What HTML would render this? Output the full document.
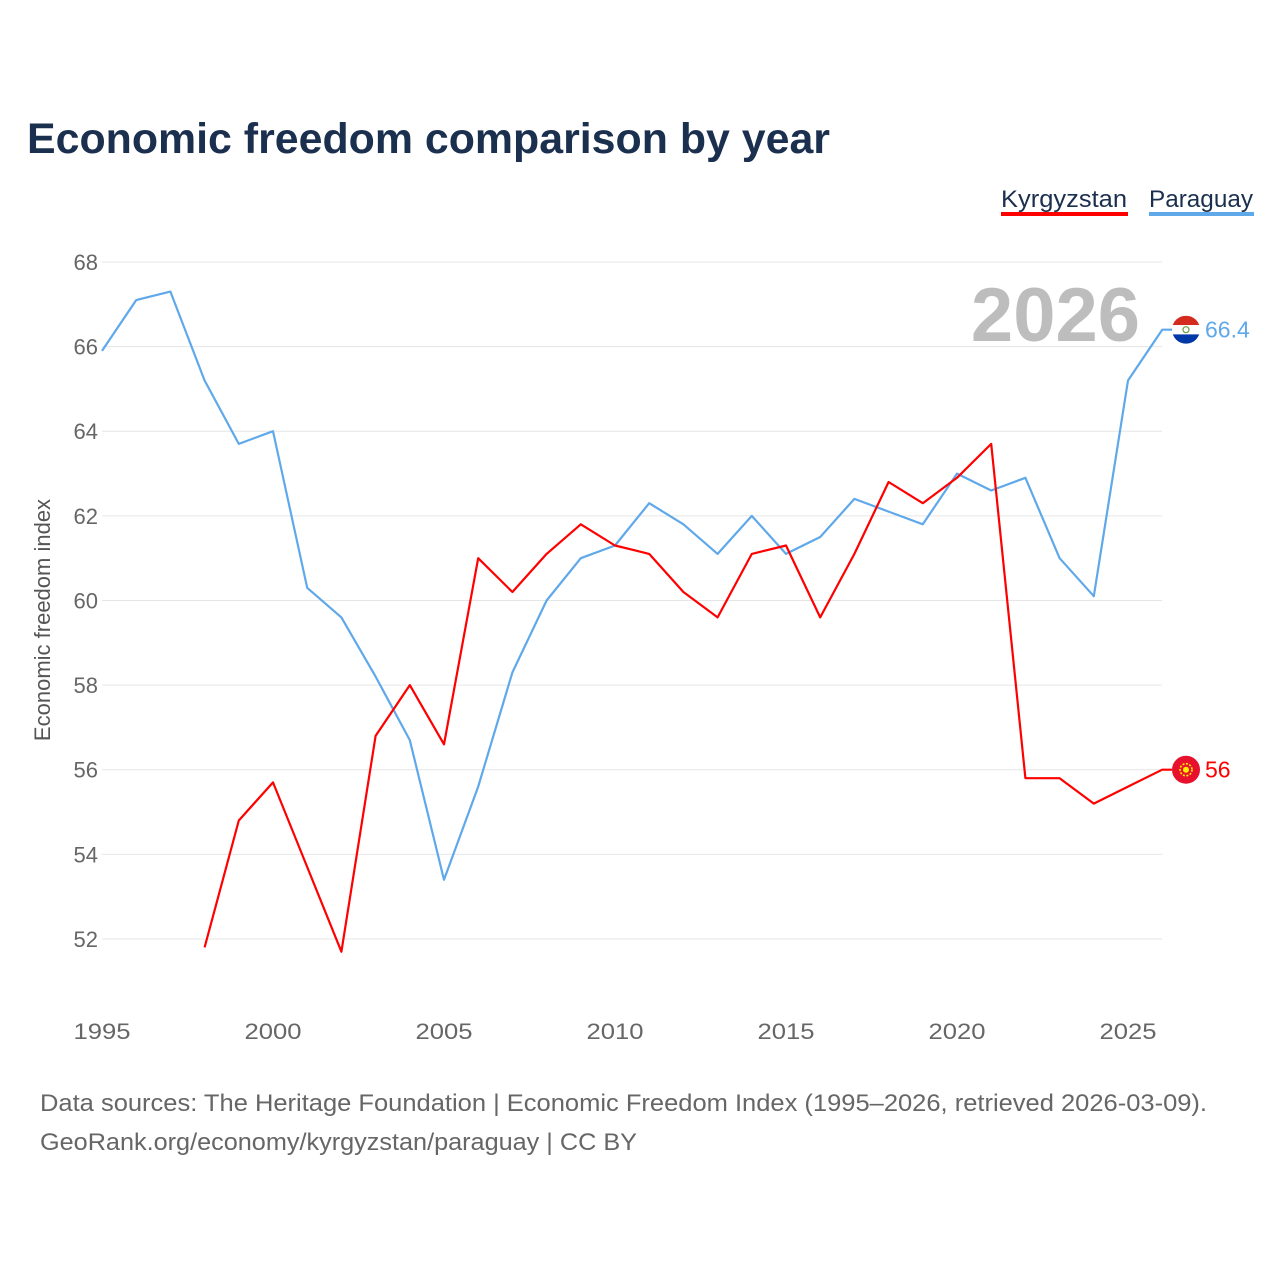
<!DOCTYPE html>
<html><head><meta charset="utf-8">
<style>
body{margin:0;background:#fff;font-family:"Liberation Sans",sans-serif;}
svg text{font-family:"Liberation Sans",sans-serif;}
</style></head>
<body>
<svg id="chart" width="1280" height="1280" viewBox="0 0 1280 1280">
  <text x="27" y="153" font-size="43" font-weight="bold" fill="#1b2f4e" textLength="803" lengthAdjust="spacingAndGlyphs">Economic freedom comparison by year</text>
  <g>
    <text x="1001" y="207" font-size="24" fill="#1b2f4e" textLength="126" lengthAdjust="spacingAndGlyphs">Kyrgyzstan</text>
    <rect x="1001" y="212" width="127" height="4" fill="#ff0000"/>
    <text x="1149" y="207" font-size="24" fill="#1b2f4e" textLength="104" lengthAdjust="spacingAndGlyphs">Paraguay</text>
    <rect x="1149" y="212" width="105" height="4" fill="#5fa8ea"/>
  </g>
  <text x="1140" y="341" font-size="76" font-weight="bold" fill="#bdbdbd" text-anchor="end">2026</text>
  <text transform="translate(50,620) rotate(-90)" font-size="22" fill="#555" text-anchor="middle">Economic freedom index</text>
  <g id="grid"></g><g id="xt"></g><g id="lines"></g>
  <text x="40" y="1111" font-size="24" fill="#666" textLength="1167" lengthAdjust="spacingAndGlyphs">Data sources: The Heritage Foundation | Economic Freedom Index (1995–2026, retrieved 2026-03-09).</text>
  <text x="40" y="1150" font-size="24" fill="#666" textLength="597" lengthAdjust="spacingAndGlyphs">GeoRank.org/economy/kyrgyzstan/paraguay | CC BY</text>
</svg>
<script>
const yTicks=[52,54,56,58,60,62,64,66,68];
const xTicks=[1995,2000,2005,2010,2015,2020,2025];
const pyYears=[1995,1996,1997,1998,1999,2000,2001,2002,2003,2004,2005,2006,2007,2008,2009,2010,2011,2012,2013,2014,2015,2016,2017,2018,2019,2020,2021,2022,2023,2024,2025,2026];
const paraguay=[65.9,67.1,67.3,65.2,63.7,64.0,60.3,59.6,58.2,56.7,53.4,55.6,58.3,60.0,61.0,61.3,62.3,61.8,61.1,62.0,61.1,61.5,62.4,62.1,61.8,63.0,62.6,62.9,61.0,60.1,65.2,66.4];
const kgYears=[1998,1999,2000,2001,2002,2003,2004,2005,2006,2007,2008,2009,2010,2011,2012,2013,2014,2015,2016,2017,2018,2019,2020,2021,2022,2023,2024,2025,2026];
const kyrgyzstan=[51.8,54.8,55.7,53.7,51.7,56.8,58.0,56.6,61.0,60.2,61.1,61.8,61.3,61.1,60.2,59.6,61.1,61.3,59.6,61.1,62.8,62.3,62.9,63.7,55.8,55.8,55.2,55.6,56.0];
const NS='http://www.w3.org/2000/svg';
const xS=v=>102+(v-1995)*34.2;
const yS=v=>262+(68-v)*42.31;
function mk(t,a,p){const e=document.createElementNS(NS,t);for(const k in a)e.setAttribute(k,a[k]);p.appendChild(e);return e;}
const grid=document.getElementById('grid');
yTicks.forEach(v=>{
  const l=mk('line',{x1:102,x2:1162,y1:yS(v),y2:yS(v),stroke:'#e6e6e6','stroke-width':1},grid);
  
  
  const t=mk('text',{x:98,y:yS(v)+8,'font-size':22,fill:'#666','text-anchor':'end'},grid);
  t.textContent=v;
  
  
});
const xt=document.getElementById('xt');
xTicks.forEach(v=>{
  const t=mk('text',{x:xS(v),y:1039,'font-size':22,fill:'#666','text-anchor':'middle',textLength:57,lengthAdjust:'spacingAndGlyphs'},xt);
  t.textContent=v;
  
  
});
const lines=document.getElementById('lines');
function series(years,vals,color,name){
  const d=years.map((y,i)=>(i?'L':'M')+xS(y).toFixed(1)+','+yS(vals[i]).toFixed(1)).join('')+'L1172,'+yS(vals[vals.length-1]).toFixed(1);
  const p=mk('path',{d:d,fill:'none',stroke:color,'stroke-width':2.2,'stroke-linejoin':'round'},lines);
  
  
  const ly=yS(vals[vals.length-1]);
  const g=mk('g',{},lines);
  
  
  const cx=1186;
  if(name==='paraguay'){
    mk('clipPath',{id:'cp'},g);
    mk('circle',{cx:cx,cy:ly,r:14},g.firstChild);
    const gg=mk('g',{'clip-path':'url(#cp)'},g);
    mk('rect',{x:cx-14,y:ly-14,width:28,height:9.4,fill:'#d52b1e'},gg);
    mk('rect',{x:cx-14,y:ly-4.6,width:28,height:9.3,fill:'#fff'},gg);
    mk('rect',{x:cx-14,y:ly+4.7,width:28,height:9.4,fill:'#0038a8'},gg);
    mk('circle',{cx:cx,cy:ly,r:3,fill:'none',stroke:'#6a9a3a','stroke-width':1.2},gg);
  } else {
    mk('circle',{cx:cx,cy:ly,r:14,fill:'#e8112d'},g);
    mk('circle',{cx:cx,cy:ly,r:6,fill:'none',stroke:'#ffef00','stroke-width':1.6,'stroke-dasharray':'2 1.5'},g);
    mk('circle',{cx:cx,cy:ly,r:3,fill:'#ffef00'},g);
  }
  const t=mk('text',{x:1205,y:ly+8,'font-size':23,fill:color},lines);
  t.textContent=vals[vals.length-1];
  
  
}
series(pyYears,paraguay,'#5fa8ea','paraguay');
series(kgYears,kyrgyzstan,'#ff0000','kyrgyzstan');
</script>
</body></html>
